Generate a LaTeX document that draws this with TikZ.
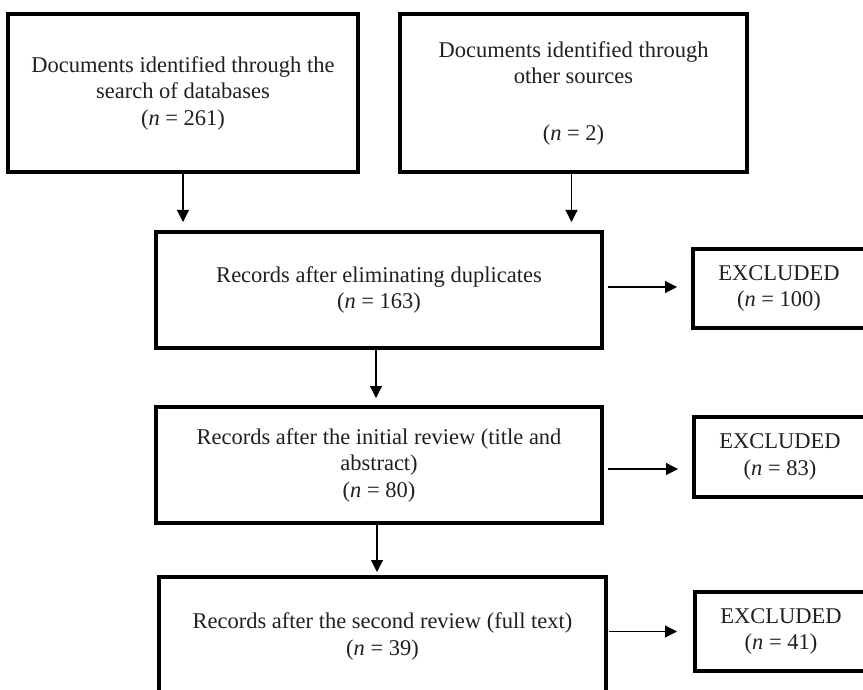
\documentclass[tikz,border=0pt]{standalone}
\usepackage{fontspec}
\setmainfont{Liberation Serif}
\usetikzlibrary{arrows.meta}
\definecolor{txt}{HTML}{231F20}
\begin{document}
\begin{tikzpicture}[x=1pt,y=-1pt,
  box/.style={draw=black, line width=3.2pt, rectangle, outer sep=0pt, inner sep=2pt,
    align=center, text=txt, font=\fontsize{22.5}{26.5}\selectfont},
  arr/.style={draw=black, line width=1.2pt, -{Triangle[length=12pt,width=12pt]}}]
\clip (0,0) rectangle (863,690);
\fill[white] (0,0) rectangle (863,690);
% main boxes
\node[box, minimum width=350pt, minimum height=158pt] (b1) at (183,93)
  {Documents identified through the\\search of databases\\(\textit{n} = 261)};
\node[box, minimum width=347pt, minimum height=158pt] (b2) at (573.5,93)
  {Documents identified through\\other sources\\[30pt](\textit{n} = 2)};
\node[box, minimum width=446pt, minimum height=116pt] (b3) at (379,290)
  {Records after eliminating duplicates\\(\textit{n} = 163)};
\node[box, minimum width=446pt, minimum height=116pt] (b4) at (379,465)
  {Records after the initial review (title and\\abstract)\\(\textit{n} = 80)};
\node[box, minimum width=447pt, minimum height=119pt] (b5) at (382.5,636.5)
  {Records after the second review (full text)\\(\textit{n} = 39)};
% excluded boxes
\node[box, minimum width=172pt, minimum height=79pt] (e1) at (779,288.5)
  {EXCLUDED\\(\textit{n} = 100)};
\node[box, minimum width=172pt, minimum height=80pt] (e2) at (780,457)
  {EXCLUDED\\(\textit{n} = 83)};
\node[box, minimum width=172pt, minimum height=79pt] (e3) at (781,631.5)
  {EXCLUDED\\(\textit{n} = 41)};
% vertical arrows
\draw[arr, shorten <=1.5pt, shorten >=10pt] (b1.south) -- (b1.south |- b3.north);
\draw[arr, shorten <=1.5pt, shorten >=10pt] ([xshift=-2pt]b2.south) -- ([xshift=-2pt]b2.south |- b3.north);
\draw[arr, shorten <=1.5pt, shorten >=9pt] ([xshift=-3pt]b3.south) -- ([xshift=-3pt]b3.south |- b4.north);
\draw[arr, shorten <=1.5pt, shorten >=5pt] ([xshift=-2pt]b4.south) -- ([xshift=-2pt]b4.south |- b5.north);
% horizontal arrows
\draw[arr, shorten <=6pt, shorten >=16pt] ([yshift=3pt]b3.east) -- ([yshift=3pt]b3.east -| e1.west);
\draw[arr, shorten <=6pt, shorten >=16pt] ([yshift=-4pt]b4.east) -- ([yshift=-4pt]b4.east -| e2.west);
\draw[arr, shorten <=3pt, shorten >=18pt] (b5.east |- e3.west) -- (e3.west);
\end{tikzpicture}
\end{document}
